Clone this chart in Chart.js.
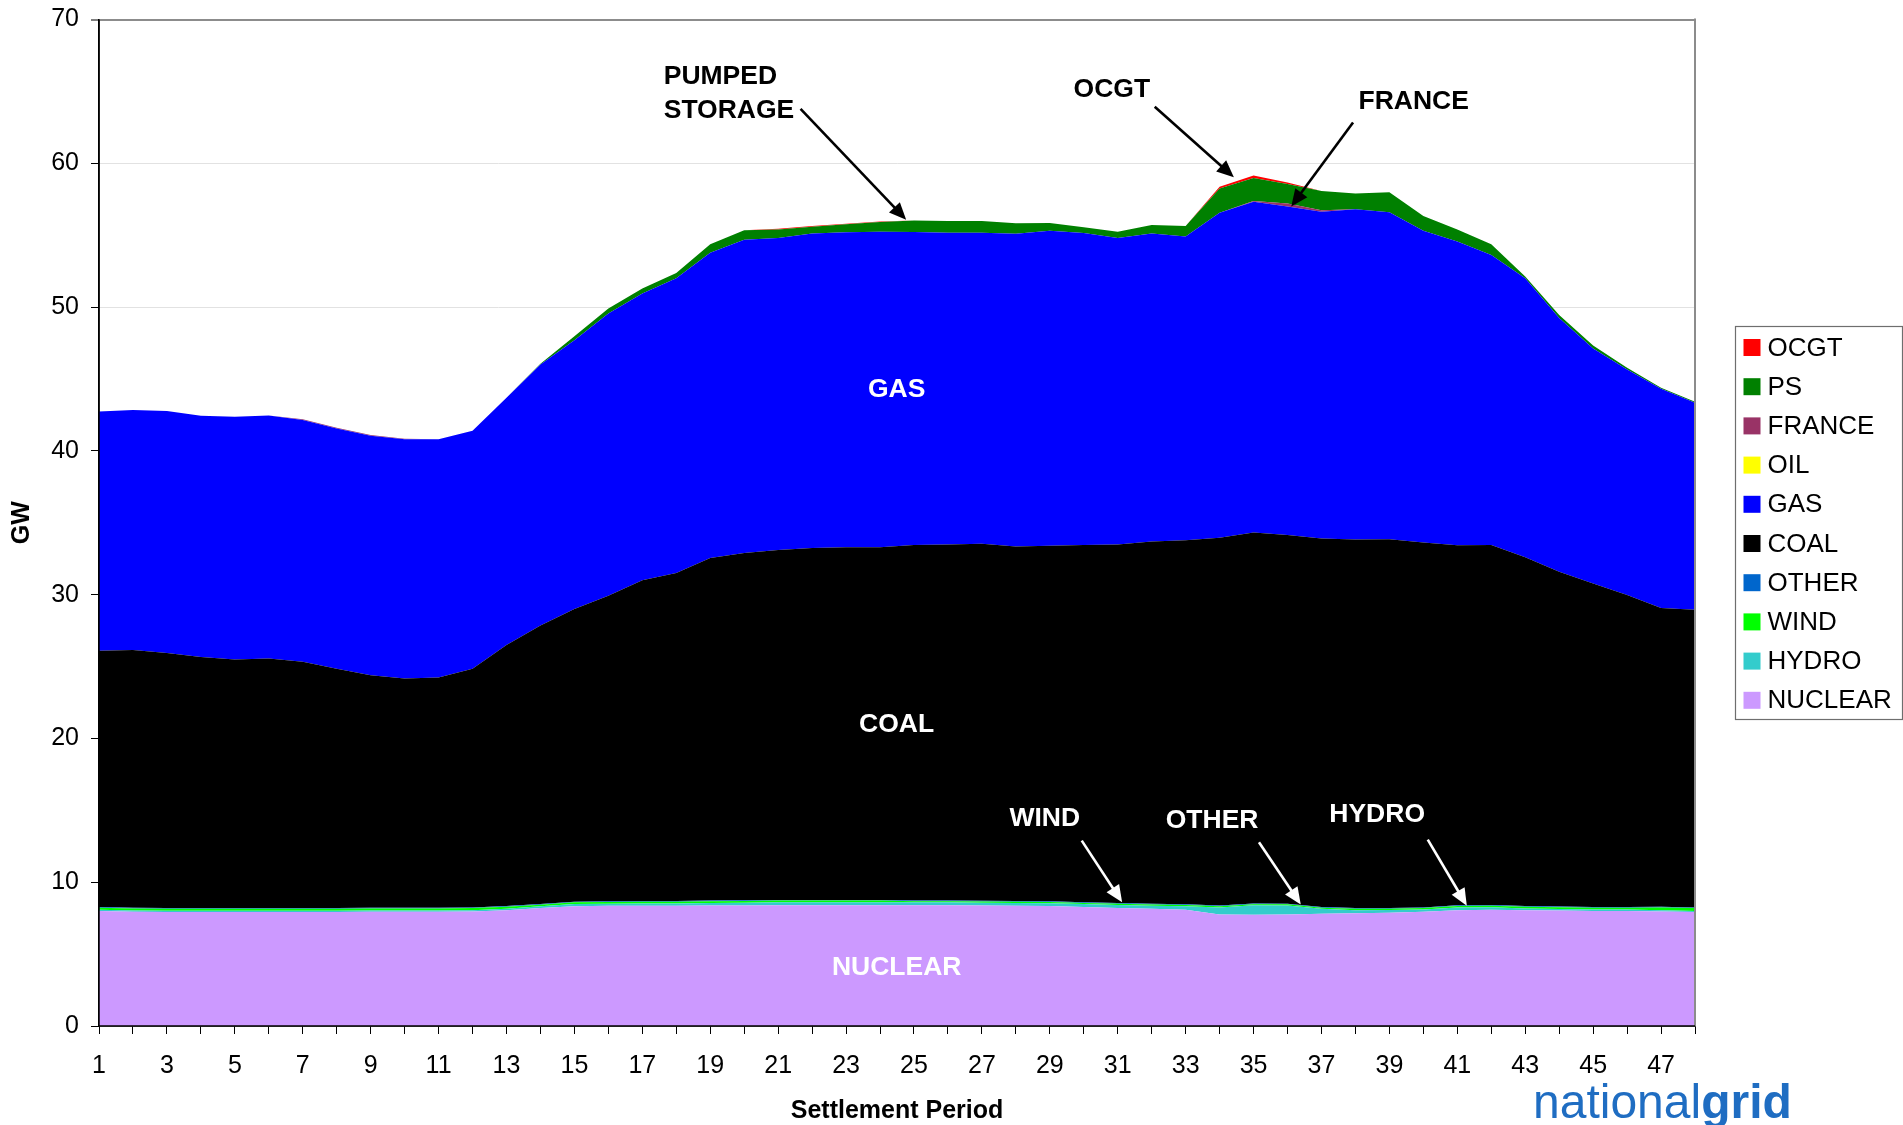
<!DOCTYPE html>
<html>
<head>
<meta charset="utf-8">
<script src="https://cdn.jsdelivr.net/npm/chart.js@4.4.1/dist/chart.umd.min.js"></script>
<style>
html,body{margin:0;padding:0;background:#ffffff;overflow:hidden;}
canvas{display:block;}
</style>
</head>
<body>
<canvas id="c" width="1903" height="1125"></canvas>
<script>
// ---------- DATA (GW per settlement period) ----------
const periods = [1,2,3,4,5,6,7,8,9,10,11,12,13,14,15,16,17,18,19,20,21,22,23,24,25,26,27,28,29,30,31,32,33,34,35,36,37,38,39,40,41,42,43,44,45,46,47,48];
const yTicks = [0,10,20,30,40,50,60,70];

const nuclear = [8.0,7.95,7.93,7.93,7.93,7.93,7.93,7.93,7.95,7.95,7.95,7.97,
                 8.05,8.2,8.33,8.36,8.37,8.37,8.38,8.38,8.4,8.4,8.4,8.4,
                 8.4,8.4,8.38,8.36,8.34,8.28,8.2,8.15,8.08,7.75,7.74,7.76,
                 7.8,7.85,7.88,7.95,8.05,8.08,8.05,8.03,8.0,8.0,7.97,7.92];
const hydro = [0.08,0.08,0.08,0.08,0.08,0.08,0.08,0.08,0.08,0.08,0.08,0.08,
               0.1,0.12,0.15,0.15,0.15,0.15,0.18,0.2,0.2,0.2,0.2,0.2,
               0.2,0.2,0.2,0.2,0.2,0.2,0.22,0.22,0.25,0.5,0.65,0.62,
               0.35,0.2,0.18,0.15,0.2,0.18,0.12,0.1,0.1,0.1,0.08,0.08];
const wind = [0.15,0.15,0.15,0.15,0.15,0.15,0.15,0.15,0.15,0.15,0.15,0.15,
              0.15,0.12,0.12,0.12,0.12,0.12,0.12,0.12,0.12,0.12,0.12,0.12,
              0.08,0.08,0.08,0.08,0.08,0.08,0.08,0.08,0.08,0.08,0.08,0.08,
              0.08,0.1,0.1,0.1,0.1,0.1,0.13,0.13,0.13,0.13,0.2,0.2];
const other = [0.05,0.05,0.05,0.05,0.05,0.05,0.05,0.05,0.05,0.05,0.05,0.05,
               0.05,0.05,0.05,0.05,0.05,0.05,0.05,0.05,0.05,0.05,0.05,0.05,
               0.05,0.05,0.05,0.05,0.05,0.05,0.05,0.05,0.05,0.05,0.05,0.05,
               0.05,0.05,0.05,0.05,0.05,0.05,0.05,0.05,0.05,0.05,0.05,0.05];
const coal = [17.82,17.92,17.74,17.45,17.28,17.35,17.13,16.64,16.16,15.94,16.01,16.6,
              18.15,19.36,20.35,21.25,22.31,22.81,23.81,24.15,24.33,24.47,24.53,24.53,
              24.73,24.76,24.83,24.65,24.73,24.85,24.94,25.2,25.32,25.57,25.8,25.64,
              25.62,25.63,25.64,25.38,25.04,25.05,24.25,23.28,22.5,21.7,20.77,20.7];
const gas = [16.63,16.7,16.83,16.78,16.88,16.9,16.81,16.7,16.66,16.63,16.56,16.55,
             17.2,18.15,18.7,19.63,19.95,20.5,21.24,21.78,21.7,21.88,21.9,21.94,
             21.76,21.68,21.63,21.76,21.9,21.69,21.31,21.42,21.12,22.61,23.0,22.85,
             22.73,22.97,22.75,21.67,21.12,20.17,19.4,17.65,16.34,15.68,15.25,14.39];
const oil = [0,0,0,0,0,0,0,0,0,0,0,0,
             0,0,0,0,0,0,0,0,0,0,0,0,
             0,0,0,0,0,0,0,0,0,0,0,0,
             0,0,0,0,0,0,0,0,0,0,0,0];
const france = [0,0,0,0,0,0,0.05,0.05,0.05,0.05,0,0,
                0,0,0,0,0,0,0,0,0,0,0,0,
                0,0,0,0,0,0,0,0,0,0,0.05,0.2,
                0.1,0,0,0,0,0,0,0,0,0,0,0];
const ps = [0,0,0,0,0,0,0,0,0,0,0,0,
            0,0.05,0.27,0.34,0.35,0.37,0.59,0.66,0.6,0.47,0.56,0.67,
            0.8,0.81,0.81,0.73,0.55,0.41,0.44,0.58,0.73,1.69,1.6,1.36,
            1.34,1.1,1.38,1.04,0.83,0.74,0.12,0.2,0.2,0.12,0.07,0.07];
const ocgt = [0,0,0,0,0,0,0,0,0,0,0,0,
              0,0,0,0,0,0,0,0,0.04,0.04,0.04,0.04,
              0,0,0,0,0,0,0,0,0,0.12,0.18,0.1,
              0,0,0,0,0,0,0,0,0,0,0,0];

// Annotations in data coordinates (period, GW)
const textNotes = [
  {text:'PUMPED',  p:17.63, v:66.2,  align:'left',   color:'#000000'},
  {text:'STORAGE', p:17.63, v:63.82, align:'left',   color:'#000000'},
  {text:'OCGT',    p:29.70, v:65.28, align:'left',   color:'#000000'},
  {text:'FRANCE',  p:38.09, v:64.44, align:'left',   color:'#000000'},
  {text:'GAS',     p:24.49, v:44.43, align:'center', color:'#ffffff'},
  {text:'COAL',    p:24.49, v:21.12, align:'center', color:'#ffffff'},
  {text:'NUCLEAR', p:24.49, v:4.21,  align:'center', color:'#ffffff'},
  {text:'WIND',    p:28.85, v:14.59, align:'center', color:'#ffffff'},
  {text:'OTHER',   p:33.78, v:14.46, align:'center', color:'#ffffff'},
  {text:'HYDRO',   p:38.64, v:14.84, align:'center', color:'#ffffff'}
];
const arrowNotes = [
  {p1:21.66, v1:63.78, p2:24.77, v2:56.08, color:'#000000'},
  {p1:32.09, v1:63.93, p2:34.42, v2:59.03, color:'#000000'},
  {p1:37.93, v1:62.84, p2:36.11, v2:57.0,  color:'#000000'},
  {p1:29.94, v1:12.89, p2:31.13, v2:8.6,   color:'#ffffff'},
  {p1:35.16, v1:12.78, p2:36.39, v2:8.45,  color:'#ffffff'},
  {p1:40.13, v1:12.96, p2:41.28, v2:8.37,  color:'#ffffff'}
];

const FONT = '"Liberation Sans", Arial, Helvetica, sans-serif';

function layer(label, data, color, fill) {
  return {label, data, backgroundColor: color, borderColor: color, borderWidth: 0,
          pointRadius: 0, pointHoverRadius: 0, tension: 0, fill: fill};
}

const datasets = [
  layer('NUCLEAR', nuclear, '#CC99FF', 'origin'),
  layer('HYDRO',   hydro,   '#33CCCC', '-1'),
  layer('WIND',    wind,    '#00FF00', '-1'),
  layer('OTHER',   other,   '#0066CC', '-1'),
  layer('COAL',    coal,    '#000000', '-1'),
  layer('GAS',     gas,     '#0000FF', '-1'),
  layer('OIL',     oil,     '#FFFF00', '-1'),
  layer('FRANCE',  france,  '#993366', '-1'),
  layer('PS',      ps,      '#008000', '-1'),
  layer('OCGT',    ocgt,    '#FF0000', '-1')
];

function drawArrow(ctx, x1, y1, x2, y2, color) {
  const ang = Math.atan2(y2 - y1, x2 - x1);
  const L = 17, W = 7.5;
  const c = Math.cos(ang), s = Math.sin(ang);
  const bx = x2 - L * c, by = y2 - L * s;
  ctx.strokeStyle = color; ctx.fillStyle = color; ctx.lineWidth = 2.6; ctx.lineCap = 'butt';
  ctx.beginPath(); ctx.moveTo(x1, y1); ctx.lineTo(bx + 2 * c, by + 2 * s); ctx.stroke();
  ctx.beginPath();
  ctx.moveTo(x2, y2);
  ctx.lineTo(bx + W * s, by - W * c);
  ctx.lineTo(bx - W * s, by + W * c);
  ctx.closePath(); ctx.fill();
}

const decorPlugin = {
  id: 'decor',
  beforeDraw(chart) {
    const ctx = chart.ctx;
    ctx.save(); ctx.fillStyle = '#ffffff'; ctx.fillRect(0, 0, chart.width, chart.height); ctx.restore();
  },
  afterDatasetsDraw(chart) {
    const {ctx, chartArea: a, scales: {x, y}} = chart;
    const px = p => x.getPixelForValue(p - 1);
    const py = v => y.getPixelForValue(v);
    ctx.save();
    // right border (grey)
    ctx.strokeStyle = '#8c8c8c'; ctx.lineWidth = 2;
    ctx.beginPath(); ctx.moveTo(a.right, a.top - 1); ctx.lineTo(a.right, a.bottom); ctx.stroke();
    // axes
    ctx.strokeStyle = '#000000'; ctx.lineWidth = 1.5;
    ctx.beginPath(); ctx.moveTo(a.left, a.top); ctx.lineTo(a.left, a.bottom); ctx.lineTo(a.right, a.bottom); ctx.stroke();
    // notes
    ctx.font = 'bold 26.5px ' + FONT;
    ctx.textBaseline = 'middle';
    for (const t of textNotes) {
      ctx.fillStyle = t.color; ctx.textAlign = t.align;
      ctx.fillText(t.text, px(t.p), py(t.v) + 2.5);
    }
    for (const ar of arrowNotes) {
      drawArrow(ctx, px(ar.p1), py(ar.v1), px(ar.p2), py(ar.v2), ar.color);
    }
    ctx.restore();
  },
  afterDraw(chart) {
    const {ctx, chartArea: a} = chart;
    ctx.save();
    // legend box
    const bx = a.right + 40, by = 326, bw = 167, bh = 393;
    ctx.fillStyle = '#ffffff'; ctx.fillRect(bx, by, bw, bh);
    ctx.strokeStyle = '#6e6e6e'; ctx.lineWidth = 1.2;
    ctx.strokeRect(bx + 0.5, by + 0.5, bw, bh);
    const items = chart.data.datasets.slice().reverse();
    ctx.font = '26px ' + FONT; ctx.textBaseline = 'middle'; ctx.textAlign = 'left';
    items.forEach((d, i) => {
      const cy = by + 21.5 + i * 39.2;
      ctx.fillStyle = d.backgroundColor;
      ctx.fillRect(bx + 8.5, cy - 8.5, 17, 17);
      ctx.fillStyle = '#000000';
      ctx.fillText(d.label, bx + 32.5, cy + 1);
    });
    // logo text
    ctx.textBaseline = 'alphabetic';
    ctx.fillStyle = '#1f6dc2';
    ctx.font = '48px ' + FONT;
    const lx = 1533, ly = 1118;
    ctx.fillText('national', lx, ly);
    const w = ctx.measureText('national').width;
    ctx.font = 'bold 48px ' + FONT;
    ctx.fillText('grid', lx + w, ly);
    ctx.restore();
  }
};

new Chart(document.getElementById('c'), {
  type: 'line',
  data: {labels: periods.map(String), datasets},
  options: {
    responsive: false,
    animation: false,
    devicePixelRatio: 1,
    layout: {padding: {top: 19.5, right: 208, bottom: 0, left: 0}},
    plugins: {legend: {display: false}, tooltip: {enabled: false}},
    elements: {line: {borderWidth: 0}},
    scales: {
      x: {
        type: 'category',
        offset: false,
        afterFit: s => { s.height = 99; s.paddingLeft = 0; s.paddingRight = 0; },
        border: {display: true, color: '#000000', width: 1.5},
        grid: {display: true, drawOnChartArea: false, drawTicks: true, tickLength: 8, tickColor: '#000000', tickWidth: 1, offset: false},
        ticks: {
          autoSkip: false, maxRotation: 0, minRotation: 0, padding: 17, color: '#000000',
          font: {family: FONT, size: 25},
          callback: (val, idx) => (idx % 2 === 0 ? String(periods[idx]) : '')
        },
        title: {display: true, text: 'Settlement Period', color: '#000000',
                font: {family: FONT, size: 25, weight: 'bold'}, padding: {top: 0, bottom: -1}}
      },
      y: {
        stacked: true,
        min: yTicks[0], max: yTicks[yTicks.length - 1],
        afterFit: s => { s.width = 99; s.paddingTop = 0; s.paddingBottom = 0; },
        afterBuildTicks: s => { s.ticks = yTicks.map(v => ({value: v})); },
        border: {display: true, color: '#000000', width: 1.5},
        grid: {
          drawTicks: true, tickLength: 8, tickColor: '#000000', tickWidth: 1,
          color: c => (c.tick && c.tick.value === 70 ? '#8c8c8c' : (c.tick && c.tick.value === 0 ? 'rgba(0,0,0,0)' : '#e2e2e2')),
          lineWidth: c => (c.tick && c.tick.value === 70 ? 2 : 1)
        },
        ticks: {padding: 12, color: '#000000', font: {family: FONT, size: 25}},
        title: {display: true, text: 'GW', color: '#000000',
                font: {family: FONT, size: 25, weight: 'bold'}, padding: {top: 7.5, bottom: 0}}
      }
    }
  },
  plugins: [decorPlugin]
});
</script>
</body>
</html>
